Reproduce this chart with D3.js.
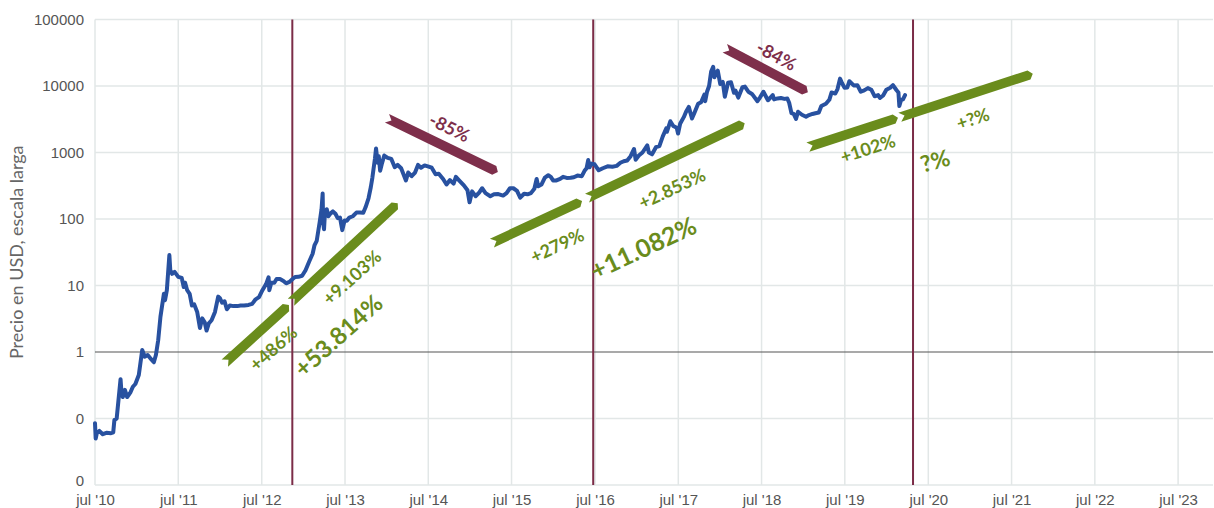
<!DOCTYPE html>
<html>
<head>
<meta charset="utf-8">
<script src="https://cdn.jsdelivr.net/npm/d3@7"></script>
<style>
  body { margin: 0; background: #fff; }
  svg { display: block; font-family: Lato, "Open Sans", sans-serif; }
  .tick-label { fill: #555; font-size: 15px; }
  .axis-title { fill: #666; font-size: 18px; }
  .anno { font-weight: 700; }
</style>
</head>
<body>
<div id="chart"></div>
<script>
// --- data ---
const priceSeries = [
  ["2010-07-17", 0.085], ["2010-07-20", 0.05], ["2010-07-25", 0.06], ["2010-08-05", 0.065],
  ["2010-08-20", 0.058], ["2010-09-05", 0.061], ["2010-09-25", 0.06], ["2010-10-05", 0.062],
  ["2010-10-10", 0.095], ["2010-10-20", 0.10], ["2010-10-28", 0.19], ["2010-11-06", 0.39],
  ["2010-11-10", 0.25], ["2010-11-16", 0.21], ["2010-11-25", 0.27], ["2010-12-05", 0.21],
  ["2010-12-20", 0.25], ["2010-12-30", 0.30], ["2011-01-10", 0.33], ["2011-01-25", 0.45],
  ["2011-02-09", 1.07], ["2011-02-20", 0.85], ["2011-03-05", 0.90], ["2011-03-20", 0.78],
  ["2011-04-01", 0.70], ["2011-04-10", 0.90], ["2011-04-20", 1.5], ["2011-04-30", 3.4],
  ["2011-05-15", 7.5], ["2011-05-20", 6], ["2011-05-28", 8.5], ["2011-06-08", 28.7],
  ["2011-06-12", 17], ["2011-06-20", 15], ["2011-07-01", 16], ["2011-07-17", 13.5],
  ["2011-08-01", 13], ["2011-08-10", 9.5], ["2011-08-16", 11], ["2011-08-25", 8.5],
  ["2011-09-05", 7.5], ["2011-09-15", 5], ["2011-09-25", 5.2], ["2011-10-08", 4],
  ["2011-10-20", 2.3], ["2011-10-30", 3.2], ["2011-11-10", 2.8], ["2011-11-18", 2.1],
  ["2011-11-28", 2.7], ["2011-12-10", 3], ["2011-12-25", 4], ["2012-01-08", 6.8],
  ["2012-01-15", 6.5], ["2012-01-25", 5.5], ["2012-02-05", 5.8], ["2012-02-15", 4.4],
  ["2012-02-28", 5], ["2012-03-15", 4.9], ["2012-04-01", 4.9], ["2012-04-15", 5],
  ["2012-05-01", 5], ["2012-05-20", 5.1], ["2012-06-05", 5.3], ["2012-06-20", 6.2],
  ["2012-07-05", 6.7], ["2012-07-20", 8.5], ["2012-08-05", 10.5], ["2012-08-16", 13.3],
  ["2012-08-19", 8.5], ["2012-08-28", 11], ["2012-09-10", 11], ["2012-09-20", 12.5],
  ["2012-10-05", 12.5], ["2012-10-20", 11.7], ["2012-11-01", 10.8], ["2012-11-15", 11.3],
  ["2012-11-28", 12.4], ["2012-12-10", 13.4], ["2012-12-25", 13.5], ["2013-01-10", 14],
  ["2013-01-25", 17], ["2013-02-10", 23], ["2013-02-25", 30], ["2013-03-05", 40],
  ["2013-03-15", 47], ["2013-03-28", 90], ["2013-04-05", 140], ["2013-04-10", 242],
  ["2013-04-12", 90], ["2013-04-16", 70], ["2013-04-20", 125], ["2013-04-28", 140],
  ["2013-05-05", 110], ["2013-05-15", 122], ["2013-05-25", 130], ["2013-06-05", 120],
  ["2013-06-15", 103], ["2013-06-25", 105], ["2013-07-05", 68], ["2013-07-15", 95],
  ["2013-07-25", 94], ["2013-08-05", 105], ["2013-08-20", 110], ["2013-09-05", 125],
  ["2013-09-20", 125], ["2013-10-05", 124], ["2013-10-15", 150], ["2013-10-28", 205],
  ["2013-11-07", 300], ["2013-11-14", 420], ["2013-11-20", 600], ["2013-11-25", 800],
  ["2013-11-30", 1150], ["2013-12-07", 700], ["2013-12-12", 880], ["2013-12-18", 530],
  ["2013-12-25", 665], ["2014-01-05", 900], ["2014-01-20", 830], ["2014-02-05", 800],
  ["2014-02-20", 600], ["2014-03-05", 650], ["2014-03-20", 580], ["2014-04-10", 380],
  ["2014-04-20", 500], ["2014-05-05", 440], ["2014-05-20", 500], ["2014-06-02", 650],
  ["2014-06-15", 590], ["2014-07-01", 640], ["2014-07-15", 620], ["2014-08-01", 590],
  ["2014-08-18", 470], ["2014-09-01", 480], ["2014-09-20", 400], ["2014-10-05", 330],
  ["2014-10-20", 385], ["2014-11-05", 340], ["2014-11-15", 430], ["2014-12-01", 375],
  ["2014-12-20", 320], ["2015-01-05", 270], ["2015-01-14", 178], ["2015-01-25", 260],
  ["2015-02-10", 220], ["2015-02-25", 250], ["2015-03-10", 290], ["2015-03-25", 245],
  ["2015-04-15", 220], ["2015-05-01", 235], ["2015-05-20", 237], ["2015-06-10", 225],
  ["2015-06-25", 245], ["2015-07-10", 290], ["2015-07-25", 290], ["2015-08-10", 265],
  ["2015-08-24", 210], ["2015-09-10", 240], ["2015-09-25", 235], ["2015-10-10", 245],
  ["2015-10-25", 285], ["2015-11-04", 400], ["2015-11-11", 310], ["2015-11-25", 330],
  ["2015-12-10", 420], ["2015-12-25", 455], ["2016-01-05", 430], ["2016-01-15", 380],
  ["2016-01-30", 380], ["2016-02-15", 400], ["2016-02-28", 430], ["2016-03-15", 415],
  ["2016-04-01", 416], ["2016-04-15", 425], ["2016-05-01", 450], ["2016-05-20", 440],
  ["2016-06-01", 530], ["2016-06-10", 580], ["2016-06-17", 770], ["2016-06-23", 600],
  ["2016-07-01", 680], ["2016-07-15", 665], ["2016-08-02", 540], ["2016-08-20", 580],
  ["2016-09-10", 620], ["2016-10-01", 610], ["2016-10-20", 630], ["2016-11-05", 700],
  ["2016-11-20", 740], ["2016-12-05", 760], ["2016-12-20", 880], ["2017-01-04", 1130],
  ["2017-01-11", 780], ["2017-01-25", 900], ["2017-02-10", 1000], ["2017-03-03", 1280],
  ["2017-03-10", 1000], ["2017-03-24", 940], ["2017-04-10", 1200], ["2017-04-25", 1250],
  ["2017-05-10", 1750], ["2017-05-25", 2300], ["2017-05-28", 2050], ["2017-06-12", 2950],
  ["2017-06-25", 2500], ["2017-07-10", 2350], ["2017-07-16", 1930], ["2017-07-25", 2700],
  ["2017-08-10", 3400], ["2017-08-20", 4100], ["2017-09-01", 4850], ["2017-09-15", 3250],
  ["2017-09-25", 3900], ["2017-10-12", 5400], ["2017-10-25", 5700], ["2017-11-08", 7400],
  ["2017-11-12", 5900], ["2017-11-20", 8200], ["2017-11-29", 10000], ["2017-12-08", 16500],
  ["2017-12-17", 19400], ["2017-12-22", 13500], ["2017-12-28", 15000], ["2018-01-06", 17000],
  ["2018-01-17", 10700], ["2018-01-28", 11500], ["2018-02-06", 6900], ["2018-02-20", 11200],
  ["2018-03-05", 11400], ["2018-03-18", 7900], ["2018-03-25", 8500], ["2018-04-06", 6700],
  ["2018-04-24", 9600], ["2018-05-05", 9800], ["2018-05-20", 8200], ["2018-06-05", 7600],
  ["2018-06-29", 5900], ["2018-07-10", 6700], ["2018-07-25", 8200], ["2018-08-14", 6100],
  ["2018-08-25", 6700], ["2018-09-04", 7300], ["2018-09-10", 6300], ["2018-09-25", 6500],
  ["2018-10-10", 6600], ["2018-10-25", 6400], ["2018-11-07", 6500], ["2018-11-15", 5600],
  ["2018-11-25", 3900], ["2018-12-05", 3800], ["2018-12-15", 3200], ["2018-12-24", 4100],
  ["2019-01-10", 3700], ["2019-01-28", 3450], ["2019-02-10", 3650], ["2019-02-25", 3800],
  ["2019-03-10", 3900], ["2019-03-25", 4000], ["2019-04-05", 5000], ["2019-04-25", 5400],
  ["2019-05-10", 6200], ["2019-05-20", 8000], ["2019-06-05", 7700], ["2019-06-15", 9000],
  ["2019-06-26", 12900], ["2019-07-05", 11000], ["2019-07-16", 9400], ["2019-07-28", 9500],
  ["2019-08-06", 11800], ["2019-08-25", 10200], ["2019-09-10", 10300], ["2019-09-25", 8200],
  ["2019-10-10", 8600], ["2019-10-26", 9300], ["2019-11-10", 8800], ["2019-11-25", 7000],
  ["2019-12-10", 7300], ["2019-12-18", 6600], ["2020-01-01", 7200], ["2020-01-15", 8800],
  ["2020-02-01", 9400], ["2020-02-13", 10300], ["2020-02-28", 8700], ["2020-03-08", 8000],
  ["2020-03-12", 5000], ["2020-03-20", 6200], ["2020-03-28", 6300], ["2020-04-06", 7300]
];

const yTicks = [0.01, 0.1, 1, 10, 100, 1000, 10000, 100000];
const xTickYears = [2010, 2011, 2012, 2013, 2014, 2015, 2016, 2017, 2018, 2019, 2020, 2021, 2022, 2023];
const xTickLabels = ["jul '10", "jul '11", "jul '12", "jul '13", "jul '14", "jul '15", "jul '16",
                     "jul '17", "jul '18", "jul '19", "jul '20", "jul '21", "jul '22", "jul '23"];
const halvings = ["2012-11-28", "2016-07-09", "2020-05-11"];

// arrows: [start date, start value, end date, end value, kind]
const arrows = [
  ["2012-02-06", 0.68, "2012-11-13", 5.1, "up"],
  ["2012-11-22", 5.6, "2014-03-05", 173, "up"],
  ["2014-01-17", 3280, "2015-05-18", 507, "down"],
  ["2015-04-22", 43.4, "2016-05-21", 186, "up"],
  ["2016-06-12", 206, "2018-05-04", 2760, "up"],
  ["2018-02-06", 37000, "2019-02-05", 8070, "down"],
  ["2019-02-05", 1204, "2020-03-06", 3340, "up"],
  ["2020-03-14", 3400, "2021-10-18", 15300, "up"]
];

// labels: [text, date, value, rotation, font size, kind]
const labels = [
  ["+486%", "2012-09-04", 1.15, -42, 18, "up"],
  ["+9.103%", "2013-08-15", 13.4, -42, 18, "up"],
  ["+53.814%", "2013-06-15", 1.8, -42, 24, "up"],
  ["-85%", "2014-10-19", 2400, 26, 18, "down"],
  ["+279%", "2016-02-01", 40.5, -25, 18, "up"],
  ["+2.853%", "2017-06-19", 291, -25, 18, "up"],
  ["+11.082%", "2017-02-12", 37.8, -25, 25, "up"],
  ["-84%", "2018-09-21", 29000, 28, 18, "down"],
  ["+102%", "2019-10-25", 1162, -18, 18, "up"],
  ["+?%", "2021-01-28", 3280, -18, 18, "up"],
  ["?%", "2020-08-15", 767, -16, 23, "up"]
];

const colors = { line: "#2851a0", up: "#6a8c1c", down: "#7e2f4b", halving: "#7b2c47",
                 grid: "#e2e7e7", one: "#555" };

// --- layout ---
const W = 1214, H = 508;
const margin = { top: 19.5, right: 1, bottom: 23, left: 95 };
const parse = d3.timeParse("%Y-%m-%d");

const svg = d3.select("#chart").append("svg").attr("width", W).attr("height", H);

const x = d3.scaleTime()
  .domain([parse("2010-07-17"), parse("2023-12-17")])
  .range([margin.left, W - margin.right]);
const y = d3.scaleLog()
  .domain([0.01, 100000])
  .range([H - margin.bottom, margin.top]);

const xTickDates = xTickYears.map(yr => new Date(yr, 6, 17));

// grid
svg.append("g").selectAll("line.vg").data(xTickDates).enter().append("line")
  .attr("x1", d => x(d)).attr("x2", d => x(d))
  .attr("y1", y(100000)).attr("y2", y(0.01))
  .attr("stroke", colors.grid).attr("stroke-width", 1.5);
svg.append("g").selectAll("line.hg").data(yTicks).enter().append("line")
  .attr("x1", margin.left).attr("x2", W - margin.right)
  .attr("y1", d => y(d)).attr("y2", d => y(d))
  .attr("stroke", d => d === 1 ? colors.one : colors.grid)
  .attr("stroke-width", d => d === 1 ? 1.2 : 1.5);

// axes (labels only)
const yAxis = svg.append("g").attr("transform", `translate(${margin.left - 8},0)`)
  .call(d3.axisLeft(y).tickValues(yTicks).tickFormat(d3.format(".0f")).tickSize(0));
yAxis.select(".domain").remove();
yAxis.selectAll("text").attr("class", "tick-label").attr("font-family", null).attr("font-size", null)
  .attr("dy", d => d === 0.01 ? "0.05em" : "0.32em");

const xAxis = svg.append("g").attr("transform", `translate(0,${H - margin.bottom + 6})`)
  .call(d3.axisBottom(x).tickValues(xTickDates).tickFormat((d, i) => xTickLabels[i]).tickSize(0));
xAxis.select(".domain").remove();
xAxis.selectAll("text").attr("class", "tick-label").attr("font-family", null).attr("font-size", null);

svg.append("text").attr("class", "axis-title")
  .attr("transform", `translate(23,${(margin.top + H - margin.bottom) / 2}) rotate(-90)`)
  .attr("text-anchor", "middle")
  .text("Precio en USD, escala larga");

// halving lines
svg.append("g").selectAll("line").data(halvings).enter().append("line")
  .attr("x1", d => x(parse(d))).attr("x2", d => x(parse(d)))
  .attr("y1", y(100000)).attr("y2", y(0.01))
  .attr("stroke", colors.halving).attr("stroke-width", 2);

// price line
const line = d3.line().x(d => x(parse(d[0]))).y(d => y(d[1]));
svg.append("path").datum(priceSeries)
  .attr("d", line)
  .attr("fill", "none").attr("stroke", colors.line)
  .attr("stroke-width", 4).attr("stroke-linejoin", "round").attr("stroke-linecap", "round");

// ribbon arrows
function ribbon(x0, y0, x1, y1) {
  const w = 9.5, notch = 5, tip = 4;
  const dx = x1 - x0, dy = y1 - y0, L = Math.hypot(dx, dy);
  const ux = dx / L, uy = dy / L, nx = -uy, ny = ux, h = w / 2;
  return [
    [x0 + nx * h, y0 + ny * h],
    [x0 + ux * notch, y0 + uy * notch],
    [x0 - nx * h, y0 - ny * h],
    [x1 - ux * tip - nx * h, y1 - uy * tip - ny * h],
    [x1, y1],
    [x1 - ux * tip + nx * h, y1 - uy * tip + ny * h]
  ];
}
svg.append("g").selectAll("polygon").data(arrows).enter().append("polygon")
  .attr("points", d => ribbon(x(parse(d[0])), y(d[1]), x(parse(d[2])), y(d[3])).join(" "))
  .attr("fill", d => colors[d[4]]);

svg.append("g").selectAll("text").data(labels).enter().append("text")
  .attr("class", "anno")
  .attr("transform", d => `translate(${x(parse(d[1]))},${y(d[2])}) rotate(${d[3]})`)
  .attr("text-anchor", "middle").attr("dominant-baseline", "central")
  .attr("font-size", d => d[4])
  .attr("fill", d => colors[d[5]])
  .text(d => d[0]);
</script>
</body>
</html>
